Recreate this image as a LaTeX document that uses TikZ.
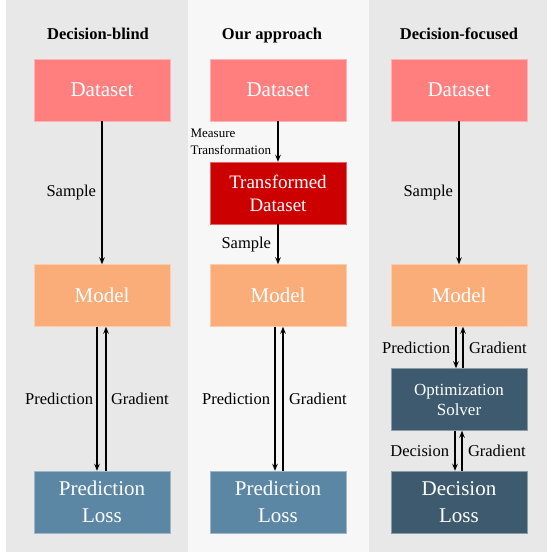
\documentclass[tikz,border=0pt]{standalone}
\usepackage{fontspec}
\setmainfont{Liberation Serif}
\usetikzlibrary{positioning,arrows.meta}
\definecolor{panel-gray}{RGB}{232,232,232}
\definecolor{panel-light}{RGB}{247,247,247}
\definecolor{dataset-pink}{RGB}{255,127,127}
\definecolor{transformed-red}{RGB}{204,0,0}
\definecolor{model-orange}{RGB}{250,173,120}
\definecolor{loss-blue}{RGB}{91,135,165}
\definecolor{solver-navy}{RGB}{61,90,111}
\tikzset{
    stage-box/.style = {rectangle, thin, minimum width=136pt, minimum height=62pt, inner sep=0pt, text=white, align=center, font=\rmfamily\fontsize{21}{27}\selectfont},
    dataset-box/.style = {stage-box, fill=dataset-pink, draw=dataset-pink!60!white},
    transformed-box/.style = {stage-box, fill=transformed-red, draw=transformed-red!60!white, font=\rmfamily\fontsize{19}{23}\selectfont},
    model-box/.style = {stage-box, fill=model-orange, draw=model-orange!60!white},
    loss-box/.style = {stage-box, fill=loss-blue, draw=loss-blue!60!white},
    solver-box/.style = {stage-box, fill=solver-navy, draw=solver-navy!60!white},
    flow/.style = {-{Stealth[length=7pt, width=5.5pt]}, line width=2pt},
    flow-label/.style = {inner sep=0pt, font=\rmfamily\fontsize{16.5}{20}\selectfont},
    column-title/.style = {inner sep=0pt, anchor=base, font=\rmfamily\fontsize{16.5}{20}\selectfont\bfseries},
}
\begin{document}
\begin{tikzpicture}[x=1pt, y=-1pt]
\useasboundingbox (0,0) rectangle (547,552);
\fill[panel-gray] (6,0) rectangle (188,552);
\fill[panel-light] (188,0) rectangle (369,552);
\fill[panel-gray] (369,0) rectangle (547,552);

\node[column-title] (title-blind) at (98,39) {Decision-blind};
\node[column-title] (title-ours) at (272,39) {Our approach};
\node[column-title] (title-focused) at (459,39) {Decision-focused};

\node[dataset-box] (data-blind) at (102,90) {Dataset};
\node[model-box] (model-blind) at (102,295.5) {Model};
\node[loss-box] (loss-blind) at (102,502) {Prediction\\Loss};

\node[dataset-box] (data-ours) at (278,90) {Dataset};
\node[transformed-box] (trans-ours) at (278,193) {Transformed\\Dataset};
\node[model-box] (model-ours) at (278,295.5) {Model};
\node[loss-box] (loss-ours) at (278,502) {Prediction\\Loss};

\node[dataset-box] (data-focused) at (459,90) {Dataset};
\node[model-box] (model-focused) at (459,295.5) {Model};
\node[solver-box, font=\rmfamily\fontsize{17}{20}\selectfont] (solver-focused) at (459,399.5) {Optimization\\Solver};
\node[solver-box] (loss-focused) at (459,502) {Decision\\Loss};

\draw[flow] (data-blind) -- node[flow-label, left=5pt] {Sample} (model-blind);
\draw[flow] ([xshift=-5pt]model-blind.south) -- node[flow-label, left=3pt] {Prediction} ([xshift=-5pt]loss-blind.north);
\draw[flow] ([xshift=4pt]loss-blind.north) -- node[flow-label, right=4pt] {Gradient} ([xshift=4pt]model-blind.south);

\draw[flow] (data-ours) -- node[flow-label, left=6pt, align=left, font=\rmfamily\fontsize{13}{17}\selectfont] {Measure\\Transformation} (trans-ours);
\draw[flow] (trans-ours) -- node[flow-label, left=6pt] {Sample} (model-ours);
\draw[flow] ([xshift=-3pt]model-ours.south) -- node[flow-label, left=4pt] {Prediction} ([xshift=-3pt]loss-ours.north);
\draw[flow] ([xshift=5pt]loss-ours.north) -- node[flow-label, right=5pt] {Gradient} ([xshift=5pt]model-ours.south);

\draw[flow] (data-focused) -- node[flow-label, left=5pt] {Sample} (model-focused);
\draw[flow] ([xshift=-3pt]model-focused.south) -- node[flow-label, left=5pt] {Prediction} ([xshift=-3pt]solver-focused.north);
\draw[flow] ([xshift=4pt]solver-focused.north) -- node[flow-label, right=5pt] {Gradient} ([xshift=4pt]model-focused.south);
\draw[flow] ([xshift=-4pt]solver-focused.south) -- node[flow-label, left=5pt] {Decision} ([xshift=-4pt]loss-focused.north);
\draw[flow] ([xshift=3pt]loss-focused.north) -- node[flow-label, right=5pt] {Gradient} ([xshift=3pt]solver-focused.south);
\end{tikzpicture}
\end{document}
